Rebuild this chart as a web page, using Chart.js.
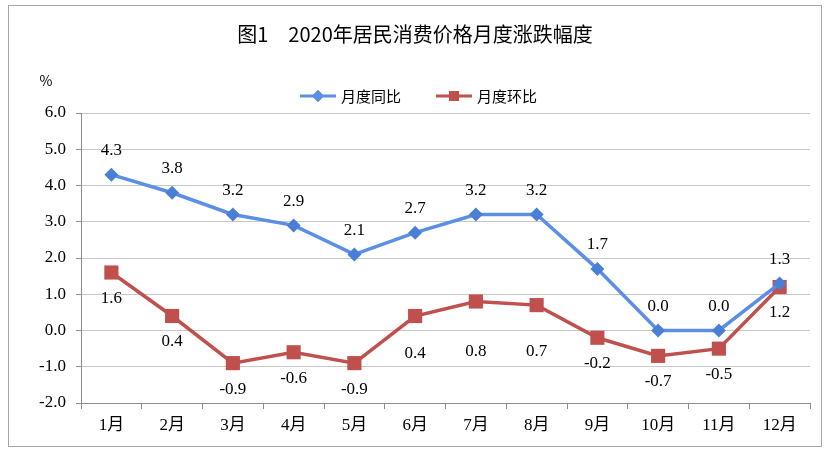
<!DOCTYPE html>
<html>
<head>
<meta charset="utf-8">
<script src="https://cdn.jsdelivr.net/npm/chart.js@4.4.1/dist/chart.umd.min.js"></script>
<style>
  html, body { margin: 0; padding: 0; background: #fff; }
  #wrap { width: 829px; height: 455px; position: relative; }
</style>
</head>
<body>
<div id="wrap"><canvas id="c"></canvas></div>
<script>
// data
var months = ['1月', '2月', '3月', '4月', '5月', '6月', '7月', '8月', '9月', '10月', '11月', '12月'];
var yoy = [4.3, 3.8, 3.2, 2.9, 2.1, 2.7, 3.2, 3.2, 1.7, 0.0, 0.0, 1.3];
var mom = [1.6, 0.4, -0.9, -0.6, -0.9, 0.4, 0.8, 0.7, -0.2, -0.7, -0.5, 1.2];
var yTicks = [-2, -1, 0, 1, 2, 3, 4, 5, 6];

var blue = '#5b8fe6';
var red = '#c0504d';
var numFont = '"Liberation Serif", "Noto Sans CJK SC", serif';
var cnFont = '"Noto Sans CJK SC", sans-serif';

// label placement, like excel pushed some of the red ones further down
var labelGap = [-24, 26];
var extraDown = { 5: 12, 6: 24, 7: 20 };

// frame, title, unit, legend and value labels
var decor = {
  id: 'decor',
  beforeDraw: function (chart) {
    var ctx = chart.ctx;
    ctx.save();
    ctx.fillStyle = '#fff';
    ctx.fillRect(0, 0, chart.width, chart.height);
    ctx.strokeStyle = '#a6a6a6';
    ctx.lineWidth = 1;
    ctx.strokeRect(8.5, 5.5, 813, 441);
    ctx.restore();
  },
  afterDatasetsDraw: function (chart) {
    var ctx = chart.ctx;
    ctx.save();
    // title
    ctx.fillStyle = '#000';
    ctx.textAlign = 'center';
    ctx.textBaseline = 'middle';
    ctx.font = '20px ' + cnFont;
    ctx.fillText('图1　2020年居民消费价格月度涨跌幅度', 415, 34);
    // unit
    ctx.font = '14px ' + cnFont;
    ctx.fillText('%', 46, 81);
    // legend
    var items = [[blue, 'rectRot', '月度同比', 300], [red, 'rect', '月度环比', 436]];
    items.forEach(function (it) {
      ctx.strokeStyle = it[0];
      ctx.lineWidth = 3;
      ctx.beginPath();
      ctx.moveTo(it[3], 96);
      ctx.lineTo(it[3] + 36, 96);
      ctx.stroke();
      ctx.fillStyle = it[0];
      Chart.helpers.drawPoint(ctx, { pointStyle: it[1], radius: it[1] == 'rect' ? 7 : 6, borderWidth: 0 }, it[3] + 18, 96);
      ctx.fill();
      ctx.fillStyle = '#000';
      ctx.textAlign = 'left';
      ctx.font = '15px ' + cnFont;
      ctx.fillText(it[2], it[3] + 41, 96);
    });
    // value labels
    ctx.font = '17px ' + numFont;
    ctx.textAlign = 'center';
    ctx.fillStyle = '#000';
    chart.data.datasets.forEach(function (ds, i) {
      var meta = chart.getDatasetMeta(i);
      meta.data.forEach(function (pt, j) {
        var dy = labelGap[i] + (i == 1 && extraDown[j] ? extraDown[j] : 0);
        ctx.fillText(ds.data[j].toFixed(1), pt.x, pt.y + dy);
      });
    });
    ctx.restore();
  }
};

new Chart(document.getElementById('c'), {
  type: 'line',
  data: {
    labels: months,
    datasets: [{
      label: '月度同比',
      data: yoy,
      borderColor: blue,
      backgroundColor: '#4a7fd6',
      borderWidth: 3.5,
      pointStyle: 'rectRot',
      pointRadius: 7,
      pointBorderWidth: 0,
      tension: 0
    }, {
      label: '月度环比',
      data: mom,
      borderColor: red,
      backgroundColor: red,
      borderWidth: 3.5,
      pointStyle: 'rect',
      pointRadius: 10,
      pointBorderWidth: 0,
      tension: 0
    }]
  },
  options: {
    responsive: true,
    maintainAspectRatio: false,
    animation: false,
    layout: { padding: { left: 0, right: 19, top: 113, bottom: 0 } },
    plugins: { legend: { display: false }, title: { display: false }, tooltip: { enabled: false } },
    scales: {
      x: {
        offset: true,
        afterFit: function (s) { s.height = 52; },
        grid: { offset: true, drawOnChartArea: false, drawTicks: true, tickLength: 6, color: '#8c8c8c' },
        border: { color: '#8c8c8c' },
        ticks: { color: '#000', padding: 6, font: { size: 17, family: numFont } }
      },
      y: {
        min: -2, max: 6,
        afterFit: function (s) { s.width = 81; },
        afterBuildTicks: function (s) { s.ticks = yTicks.map(function (v) { return { value: v }; }); },
        grid: { color: '#c8c8c8', tickLength: 5, tickColor: '#8c8c8c' },
        border: { color: '#8c8c8c' },
        ticks: {
          color: '#000', padding: 10,
          font: { size: 17, family: numFont },
          callback: function (v) { return v.toFixed(1); }
        }
      }
    }
  },
  plugins: [decor]
});
</script>
</body>
</html>
